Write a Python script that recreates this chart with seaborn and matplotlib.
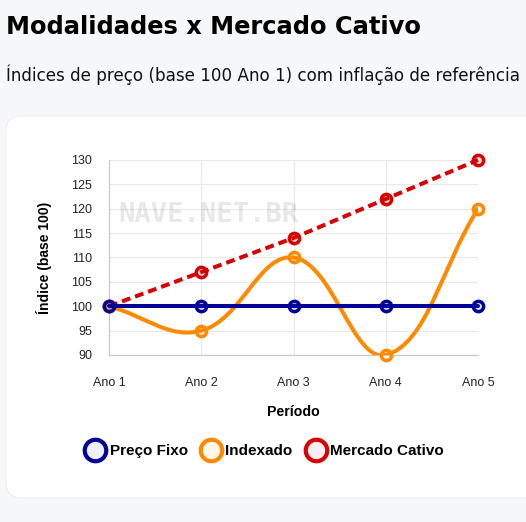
import numpy as np
import pandas as pd
import matplotlib
matplotlib.use("Agg")
import matplotlib.pyplot as plt
import seaborn as sns
from matplotlib.path import Path
from matplotlib.patches import PathPatch, FancyBboxPatch
from matplotlib.lines import Line2D

periodos = ["Ano 1", "Ano 2", "Ano 3", "Ano 4", "Ano 5"]
preco_fixo = [100, 100, 100, 100, 100]
indexado = [100, 95, 110, 90, 120]
mercado_cativo = [100, 107, 114, 122, 130]
y_ticks = [90, 95, 100, 105, 110, 115, 120, 125, 130]

AZUL = "#000099"
LARANJA = "#ff8a00"
VERMELHO = "#d80000"

sns.set_style("white")
plt.rcParams["font.family"] = ["Liberation Sans", "DejaVu Sans"]
plt.rcParams["text.color"] = "black"

W, H = 526, 522
fig = plt.figure(figsize=(W / 100, H / 100), dpi=100)
fig.patch.set_facecolor("#f6f7f9")

# card branco
card = FancyBboxPatch((6 / W, 24 / H), 540 / W, 382 / H,
                      boxstyle="round,pad=0,rounding_size=0.03",
                      transform=fig.transFigure, facecolor="white",
                      edgecolor="#eceef1", linewidth=0.8, zorder=-5)
fig.patches.append(card)

fig.text(6 / W, 1 - 27 / H, "Modalidades x Mercado Cativo", fontsize=17.4,
         fontweight="bold", family="DejaVu Sans", va="center", ha="left", color="black")
fig.text(6 / W, 1 - 75 / H, "Índices de preço (base 100 Ano 1) com inflação de referência",
         fontsize=12.1, family="DejaVu Sans", va="center", ha="left", color="#111111")

ax = fig.add_axes([109 / W, 1 - 355 / H, 369 / W, 195 / H])
ax.set_zorder(2)
ax.set_facecolor("none")
x = np.arange(len(periodos))
ax.set_xlim(0, 4)
ax.set_ylim(90, 130)

df = pd.DataFrame({"x": x, "Preço Fixo": preco_fixo,
                   "Indexado": indexado, "Mercado Cativo": mercado_cativo})

ms = 7.4
mew = 2.5
lw = 2.9

sns.lineplot(data=df, x="x", y="Preço Fixo", ax=ax, color=AZUL, linewidth=lw,
             marker="o", markersize=ms, markeredgewidth=mew, markeredgecolor=AZUL,
             markerfacecolor=(0, 0, 0.6, 0.1), zorder=6, clip_on=False)

sns.lineplot(data=df, x="x", y="Mercado Cativo", ax=ax, color=VERMELHO, linewidth=lw,
             marker="o", markersize=ms, markeredgewidth=mew, markeredgecolor=VERMELHO,
             markerfacecolor=(0.85, 0, 0, 0.1), zorder=4, clip_on=False,
             dashes=(2.2, 1.25))

# curva suave estilo Chart.js (tension 0.4) para Indexado
fig.canvas.draw()
pts = ax.transData.transform(np.column_stack([x, indexado]))
t = 0.4
verts = [pts[0]]
codes = [Path.MOVETO]
cps = []
for i in range(len(pts)):
    prev = pts[i - 1] if i > 0 else pts[i]
    nxt = pts[i + 1] if i < len(pts) - 1 else pts[i]
    d01 = np.hypot(*(pts[i] - prev))
    d12 = np.hypot(*(nxt - pts[i]))
    s01 = d01 / (d01 + d12)
    s12 = d12 / (d01 + d12)
    cp1 = pts[i] - t * s01 * (nxt - prev)
    cp2 = pts[i] + t * s12 * (nxt - prev)
    cps.append((cp1, cp2))
for i in range(1, len(pts)):
    verts += [cps[i - 1][1], cps[i][0], pts[i]]
    codes += [Path.CURVE4] * 3
verts = ax.transData.inverted().transform(np.array(verts))
curva = PathPatch(Path(verts, codes), facecolor="none", edgecolor=LARANJA,
                  linewidth=lw, zorder=5, capstyle="round")
ax.add_patch(curva)
ax.plot(x, indexado, linestyle="none", marker="o", markersize=ms,
        markeredgewidth=mew, markeredgecolor=LARANJA,
        markerfacecolor=(1, 0.54, 0, 0.1), zorder=5.5, clip_on=False)

ax.set_xticks(x)
ax.set_xticklabels(periodos)
ax.set_yticks(y_ticks)
ax.grid(True, color="#e8e8e8", linewidth=0.8)
ax.set_axisbelow(True)
for s in ["top", "right"]:
    ax.spines[s].set_visible(False)
for s in ["left", "bottom"]:
    ax.spines[s].set_color("#c9c9c9")
    ax.spines[s].set_linewidth(0.9)
ax.tick_params(axis="both", length=7, color="#e8e8e8", width=0.8,
               labelsize=9, labelcolor="#222222", pad=5)
ax.tick_params(axis="x", pad=9)
ax.set_xlabel("Período", fontsize=10.2, fontweight="bold", labelpad=11, color="black")
ax.set_ylabel("Índice (base 100)", fontsize=10, fontweight="bold", labelpad=14, color="black")

ax.text(0.025, 0.72, "NAVE.NET.BR", transform=ax.transAxes, fontsize=19.5,
        family="DejaVu Sans Mono", fontweight="bold", color="#000000", alpha=0.09,
        va="center", ha="left", zorder=1)

handles = [
    Line2D([], [], linestyle="none", marker="o", markersize=15.5, markeredgewidth=3,
           markeredgecolor=c, markerfacecolor=fc)
    for c, fc in [(AZUL, "#eef0fa"), (LARANJA, "#fff6ec"), (VERMELHO, "#fbeef0")]
]
fig.legend(handles, ["Preço Fixo", "Indexado", "Mercado Cativo"], loc="center",
           bbox_to_anchor=(266 / W, 1 - 451 / H), ncol=3, frameon=False,
           prop={"family": "Liberation Sans", "weight": "bold", "size": 11},
           handlelength=1.0, handletextpad=0.42, columnspacing=1.05)

fig.savefig("out.png", dpi=100, facecolor=fig.get_facecolor())
